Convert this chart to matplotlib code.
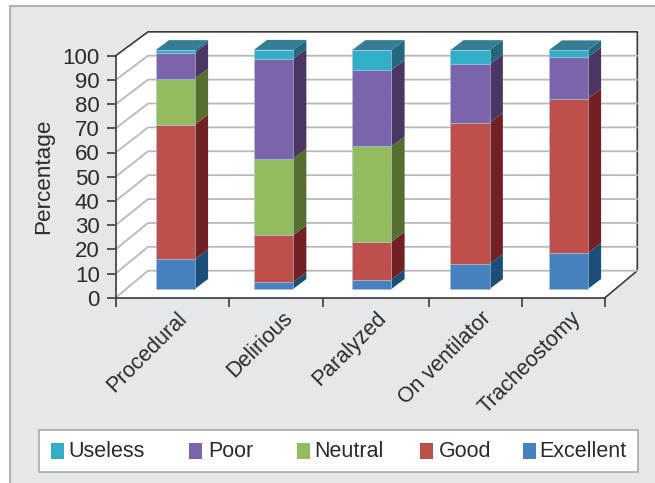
import matplotlib
matplotlib.use('Agg')
import matplotlib.pyplot as plt
from matplotlib.patches import Polygon, Rectangle

plt.rcParams['font.family'] = ['Liberation Sans', 'DejaVu Sans']

categories = ['Procedural', 'Delirious', 'Paralyzed', 'On ventilator', 'Tracheostomy']
series_names = ['Excellent', 'Good', 'Neutral', 'Poor', 'Useless']
excellent = [12.4, 2.8, 3.9, 10.5, 15.1]
good = [56.4, 19.6, 15.8, 59.0, 64.6]
neutral = [19.2, 32.2, 40.0, 0.0, 0.0]
poor = [10.9, 41.7, 31.9, 24.5, 17.3]
useless = [1.1, 3.8, 8.4, 6.0, 2.9]
series_values = [excellent, good, neutral, poor, useless]

front_colors = ['#4781bf', '#bf4f4a', '#95bb5f', '#7b64aa', '#33aec8']
side_colors = ['#1b4f79', '#722023', '#566e30', '#4b3663', '#23687c']
top_color = '#347d92'
text_color = '#2b2b2d'

W, H = 655, 483
fig = plt.figure(figsize=(W / 100, H / 100), dpi=100, facecolor='white')
ax = fig.add_axes([0, 0, 1, 1])

# x data unit = one bar spacing, y data unit = one percent
PX_X = 98.25
PX_Y = 2.42
X0_PX = 175.2
Y0_PX = 297.7
# the bars and the back wall sit deeper in the box, so they come out a bit shorter
DEPTH_SCALE = 0.987
ax.set_xlim(-X0_PX / PX_X, (W - X0_PX) / PX_X)
ax.set_ylim((Y0_PX - H) / PX_Y, Y0_PX / PX_Y)
ax.patch.set_alpha(0)


def xd(px):
    return (px - X0_PX) / PX_X


def yd(px):
    return (Y0_PX - px) / PX_Y


# grey panel behind everything
ax.add_patch(Rectangle((xd(10.5), yd(490)), xd(665) - xd(10.5), yd(6) - yd(490),
                       fc='#e6e7e9', ec='#b0b1b3', lw=1.5, zorder=0))

# walls and floor
left, right = xd(115.7), xd(605)
dx_wall, dy_wall = 32.3 / PX_X, 27.0 / PX_Y
wall_top = 100 * DEPTH_SCALE + dy_wall
ax.add_patch(Polygon([(left, 0), (right, 0), (right + dx_wall, dy_wall),
                      (right + dx_wall, wall_top), (left + dx_wall, wall_top),
                      (left, 100)], fc='white', ec='none', zorder=1))
ax.plot([right, right + dx_wall, right + dx_wall, left + dx_wall, left],
        [0, dy_wall, wall_top, wall_top, 100],
        color='#3a3a3c', lw=1.2, zorder=2, solid_capstyle='projecting')

for v in range(0, 100, 10):
    ax.plot([left, left + dx_wall, right + dx_wall],
            [v, v * DEPTH_SCALE + dy_wall, v * DEPTH_SCALE + dy_wall],
            color='#b8b9bd', lw=1.3, zorder=2)

# stacked 3D bars
half = 19.6 / PX_X
gap_y = 8.7 / PX_Y
dx_side, dy_side = 13.3 / PX_X, 10.0 / PX_Y
for i in range(len(categories)):
    base = 0
    for values, fc, sc in zip(series_values, front_colors, side_colors):
        v = values[i]
        if v <= 0:
            continue
        y0 = base * DEPTH_SCALE + gap_y
        y1 = (base + v) * DEPTH_SCALE + gap_y
        ax.add_patch(Rectangle((i - half, y0), 2 * half, y1 - y0, fc=fc, ec='#a9c4df',
                               lw=0.4, zorder=4))
        ax.add_patch(Polygon([(i + half, y0), (i + half + dx_side, y0 + dy_side),
                              (i + half + dx_side, y1 + dy_side), (i + half, y1)],
                             fc=sc, ec='none', zorder=3))
        base += v
    top = base * DEPTH_SCALE + gap_y
    ax.add_patch(Polygon([(i - half, top), (i + half, top),
                          (i + half + dx_side, top + dy_side),
                          (i - half + dx_side, top + dy_side)],
                         fc=top_color, ec='none', zorder=3))

# real axes: spines moved to the front plane
for s in ['top', 'right']:
    ax.spines[s].set_visible(False)
ax.spines['left'].set_position(('data', left))
ax.spines['left'].set_bounds(0, 100)
ax.spines['bottom'].set_position(('data', 0))
ax.spines['bottom'].set_bounds(left, right)
for s in ['left', 'bottom']:
    ax.spines[s].set_color('#3a3a3c')
    ax.spines[s].set_linewidth(1.2)
    ax.spines[s].set_zorder(5)

ax.set_yticks(range(0, 101, 10))
ax.tick_params(axis='y', direction='out', length=6.5, width=1.2, color='#3a3a3c',
               labelsize=16, pad=5, labelcolor=text_color)
ax.tick_params(axis='x', length=6.5, color='#3a3a3c', width=1.2, labelbottom=False)
ax.set_xticks([xd(p) for p in [115.7, 228.7, 322.7, 429, 522.3, 605]])

ax.text(xd(44), yd(176.5), 'Percentage', rotation=90, ha='center', va='center',
        fontsize=16.2, color=text_color)

# labels do not sit evenly under the bars in the original
label_end_px = [176, 282.5, 376, 480.5, 570]
for name, px in zip(categories, label_end_px):
    ax.text(xd(px), yd(308), name, rotation=45, ha='right', va='top',
            rotation_mode='anchor', fontsize=15.5, color=text_color)

# legend box with the uneven spacing of the original
ax.add_patch(Rectangle((xd(39), yd(472)), xd(638) - xd(39), yd(430) - yd(472),
                       fc='white', ec='#a9abae', lw=1.2, zorder=2))
legend_order = [4, 3, 2, 1, 0]
swatch_px = [51, 189, 297, 420, 523]
text_px = [68, 208, 314, 439, 539]
for k, sx, tx in zip(legend_order, swatch_px, text_px):
    ax.add_patch(Rectangle((xd(sx), yd(459)), 13 / PX_X, 16 / PX_Y, fc=front_colors[k],
                           ec='none', zorder=3))
    ax.text(xd(tx), yd(451.5), series_names[k], ha='left', va='center',
            fontsize=15.5, color=text_color, zorder=3)

fig.savefig('out.png', dpi=100, facecolor='white')
